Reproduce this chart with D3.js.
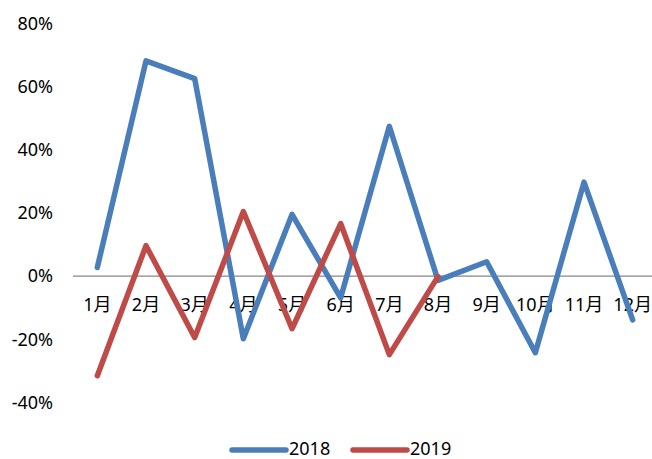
<!DOCTYPE html>
<html><head><meta charset="utf-8">
<script src="https://cdn.jsdelivr.net/npm/d3@7"></script>
<style>
html,body{margin:0;padding:0;background:#fff;}
svg{display:block;}
text{font-family:"Noto Sans","Noto Sans CJK SC",sans-serif;font-size:18px;fill:#000;}
</style></head>
<body><svg id="c" width="652" height="459"></svg>
<script>
const months = ["1月","2月","3月","4月","5月","6月","7月","8月","9月","10月","11月","12月"];
const series2018 = [0.026, 0.68, 0.624, -0.20, 0.194, -0.07, 0.473, -0.015, 0.044, -0.244, 0.296, -0.14];
const series2019 = [-0.317, 0.095, -0.196, 0.203, -0.168, 0.165, -0.25, -0.003];
const yTicks = [-0.4, -0.2, 0, 0.2, 0.4, 0.6, 0.8];
const seriesNames = ["2018", "2019"];
const colors = ["#4A7EBB", "#BE4B48"];

const svg = d3.select("#c");
const x = d3.scaleBand().domain(months).range([73, 657]);
const y = d3.scaleLinear().domain([-0.4, 0.8]).range([402, 23]);
const cx = m => x(m) + x.bandwidth() / 2;
const locale = d3.formatLocale({decimal: ".", thousands: ",", grouping: [3], currency: ["", ""], minus: "-"});

// y labels
const yAxis = d3.axisLeft(y).tickValues(yTicks).tickFormat(locale.format(".0%")).tickSize(0).tickPadding(0);
const gy = svg.append("g").attr("transform", "translate(53,0)").call(yAxis);
gy.select(".domain").remove();
gy.attr("font-family", null).attr("font-size", null);
gy.selectAll("text").attr("dy", "0.35em").attr("x", 0);

// x axis at zero
const xAxis = d3.axisBottom(x).tickSize(0).tickPadding(0);
const gx = svg.append("g").attr("transform", `translate(0,${y(0)})`).call(xAxis);
gx.attr("font-family", null).attr("font-size", null);
gx.select(".domain").attr("stroke", "#868686").attr("stroke-width", 1.3).attr("d", `M73,0.5H652`);
gx.selectAll("text").attr("dy", null).attr("y", 35);

const line = d3.line().x((d, i) => cx(months[i])).y(d => y(d));
[series2018, series2019].forEach((s, k) => {
  svg.append("path").datum(s).attr("d", line).attr("fill", "none")
    .attr("stroke", colors[k]).attr("stroke-width", 5.5)
    .attr("stroke-linejoin", "round").attr("stroke-linecap", "round");
});

// legend
const lg = svg.append("g");
const legX = [232, 353];
seriesNames.forEach((n, k) => {
  lg.append("line").attr("x1", legX[k]).attr("x2", legX[k] + 54).attr("y1", 450).attr("y2", 450)
    .attr("stroke", colors[k]).attr("stroke-width", 5.5).attr("stroke-linecap", "round");
  lg.append("text").attr("x", legX[k] + 57).attr("y", 455).text(n);
});
</script></body></html>
